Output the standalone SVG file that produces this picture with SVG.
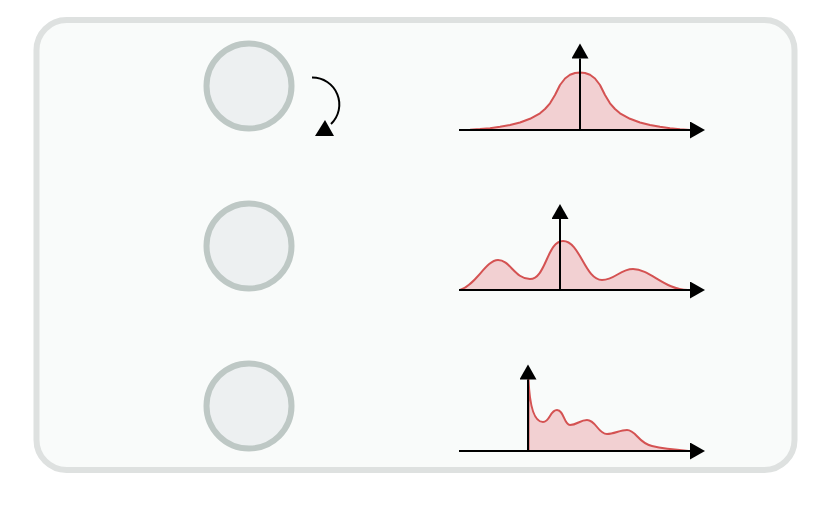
<svg xmlns="http://www.w3.org/2000/svg" width="830" height="507" viewBox="0 0 830 507">
<style>
.frame{fill:#f9fbfa;stroke:#dee1e0;stroke-width:6}
.node{fill:#edf0f1;stroke:#bec8c5;stroke-width:6}
.curve{fill:#f2d0d2;stroke:#d45252;stroke-width:2;stroke-linejoin:round}
.axis{fill:none;stroke:#000;stroke-width:2;marker-end:url(#ah)}
</style>
<defs>
<marker id="ah" markerUnits="userSpaceOnUse" markerWidth="16" markerHeight="18" refX="0" refY="8.5" orient="auto"><path d="M0,0 L15,8.5 L0,17 z" fill="#000"/></marker>
</defs>
<rect class="frame" x="36.5" y="20" width="758" height="450" rx="30" ry="30"/>
<g id="node1"><circle class="node" cx="249" cy="86" r="42.5"/></g>
<g id="node2"><circle class="node" cx="249" cy="246" r="42.5"/></g>
<g id="node3"><circle class="node" cx="249" cy="406" r="42.5"/></g>
<g id="connectors">
<path d="M312,77.5 A27,27 0 0 1 331,124" fill="none" stroke="#000" stroke-width="2"/>
<polygon points="325,120 315,136 334,136" fill="#000"/>
</g>
<g id="plot1">
<path class="curve" d="M460,130 L470,129.7 480,129.1 490,128.2 500,126.8 510,125 520,122.5 530,118.8 540,113.3 545,109 550,103.3 555,95 560,85 565,78.5 570,74.8 575,73 580,72.5 585,73 590,74.8 595,78.5 600,85 605,95 610,103.3 615,109 620,113.3 630,118.8 640,122.5 650,125 660,126.8 670,128.2 680,129.3 690,130 Z"/>
<path class="axis" d="M459,130 H690"/>
<path class="axis" d="M580,130 V58.5"/>
</g>
<g id="plot2">
<path class="curve" d="M460,290 C476,285 486,260 498,260 C510,260 515,279 530,279 C546,279 547,241 563,241 C580,241 585,280 602,280 C615,280 620,269 633,269 C650,269 665,290 688,290 Z"/>
<path class="axis" d="M459,290 H690"/>
<path class="axis" d="M560,290 V219"/>
</g>
<g id="plot3">
<path class="curve" d="M528.5,379 C530,415 537,422 543,422 C550,422 550,410 557,410 C564,410 564,425 570,425 C577,425 580,420 587,420 C596,420 598,434 607,434 C614,434 620,430 627,430 C636,430 638,443 652,446 C665,449 678,450 690,451 L528.5,451 Z"/>
<path class="axis" d="M459,451 H690"/>
<path class="axis" d="M528,451 V379.5"/>
</g>
</svg>
